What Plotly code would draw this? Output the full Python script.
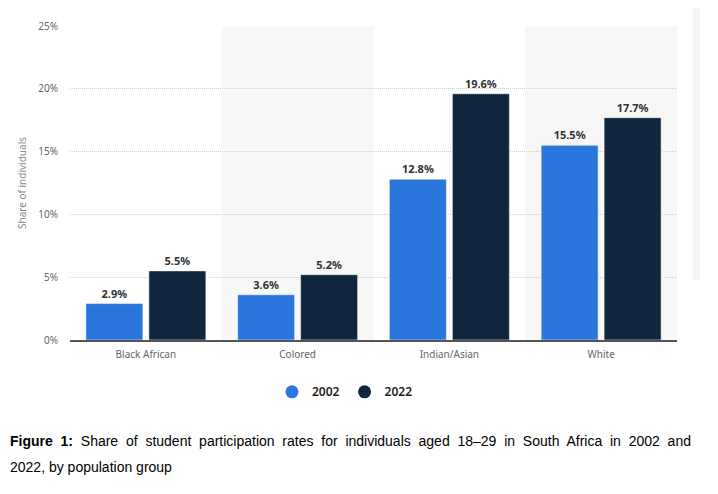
import plotly.graph_objects as go

# Student participation rates, South Africa, by population group
groups = ["Black African", "Colored", "Indian/Asian", "White"]
share_2002 = [2.9, 3.6, 12.8, 15.5]
share_2022 = [5.5, 5.2, 19.6, 17.7]
y_ticks = [0, 5, 10, 15, 20, 25]

BLUE = "#2a76dd"
NAVY = "#10263f"
TICK_FONT = dict(family="Noto Sans", size=10, color="#666666")
CAPTION_FONT = dict(family="Liberation Sans", size=14, color="#000000")

fig = go.Figure()

# alternating light bands behind every second category
for i, g in enumerate(groups):
    if i % 2 == 1:
        fig.add_vrect(x0=i - 0.5, x1=i + 0.5, fillcolor="#f7f7f7",
                      line_width=0, layer="below")

for name, vals, color in [("2002", share_2002, BLUE), ("2022", share_2022, NAVY)]:
    fig.add_trace(go.Bar(
        x=groups, y=vals, name=name, showlegend=False,
        marker=dict(color=color, line=dict(color="rgba(255,255,255,0.5)", width=1)),
        text=[f"<b>{v}%</b>" for v in vals],
        textposition="outside",
        textfont=dict(family="Noto Sans", size=11, color="#333333"),
        cliponaxis=False,
    ))
    # round legend markers
    fig.add_trace(go.Scatter(
        x=[None], y=[None], mode="markers", name=name,
        marker=dict(color=color, size=13, symbol="circle"),
    ))

fig.update_layout(
    width=710, height=486,
    margin=dict(l=62, r=41, t=10, b=154),
    paper_bgcolor="white", plot_bgcolor="white",
    barmode="group", bargap=0.17, bargroupgap=0.095,
    showlegend=True,
    legend=dict(orientation="h", x=0.453, xanchor="center", y=-0.165, yanchor="middle",
                font=dict(family="Noto Sans", size=12, color="#222222", weight=600),
                itemwidth=30),
    xaxis=dict(showgrid=False, showline=True, linecolor="#555555", linewidth=2,
               tickfont=TICK_FONT, ticks="", ticklabelstandoff=4, range=[-0.5, 3.5]),
    yaxis=dict(range=[0, 25], tickvals=y_ticks, ticktext=[f"{v}%" for v in y_ticks],
               showgrid=True, gridcolor="#cfcfcf", griddash="1px,1px", gridwidth=1,
               zeroline=False, tickfont=TICK_FONT, ticks="", ticklabelstandoff=11,
               title=dict(text="Share of individuals", standoff=9,
                          font=dict(family="Noto Sans", size=10, color="#8a8a8a"))),
)

# faint side panel at the right edge
fig.add_shape(type="rect", xref="paper", yref="paper", x0=1.026, x1=1.038, y0=0.19, y1=1.06,
              fillcolor="#f3f4f6", line_width=0, layer="below")

sp = "\u00a0 "
line1 = sp.join("Share of student participation rates for individuals aged 18–29 "
                "in South Africa in 2002 and".split(" "))
fig.add_annotation(
    xref="paper", yref="paper", x=-0.102, y=-0.323, xanchor="left", yanchor="middle",
    align="left", showarrow=False,
    text="<b>Figure" + sp + "1:</b>" + sp + line1,
    font=CAPTION_FONT,
)
fig.add_annotation(
    xref="paper", yref="paper", x=-0.102, y=-0.404, xanchor="left", yanchor="middle",
    align="left", showarrow=False,
    text="2022, by population group",
    font=CAPTION_FONT,
)

fig.write_html("out.html")
